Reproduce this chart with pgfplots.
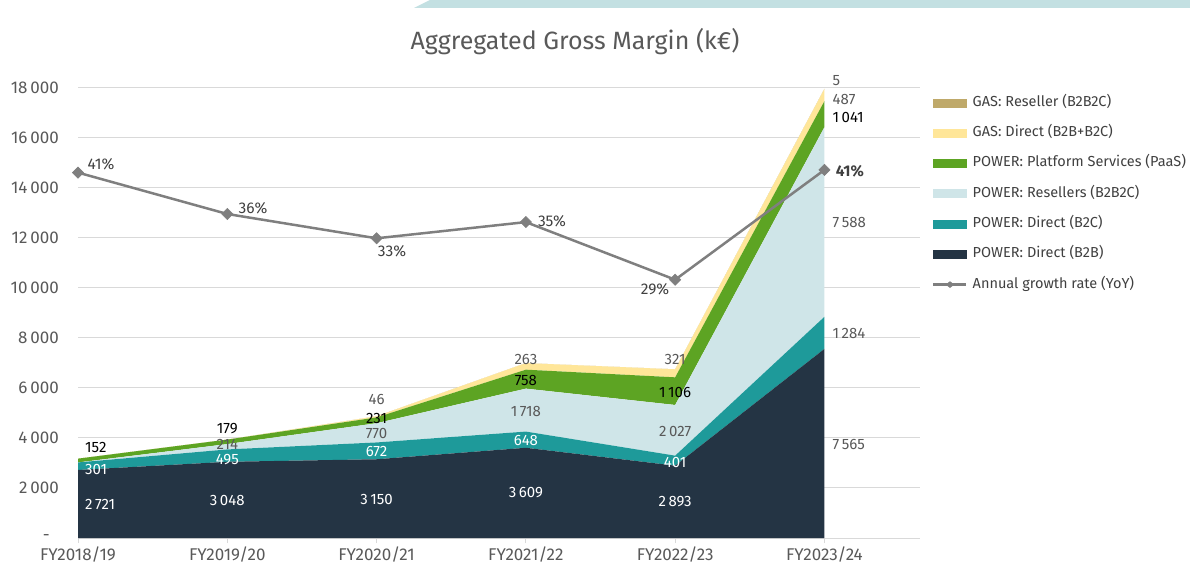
\documentclass[border=0pt]{standalone}
\usepackage{pgfplots}
\pgfplotsset{compat=1.18}
\usepackage{pgfplotstable}
\usepackage{fontspec}
\setmainfont{Fira Sans}
\definecolor{b2b}{HTML}{243444}
\definecolor{b2c}{HTML}{1E9A9A}
\definecolor{res}{HTML}{CFE5E8}
\definecolor{paas}{HTML}{5DA423}
\definecolor{gasd}{HTML}{FFE699}
\definecolor{gasr}{HTML}{BFA96A}
\definecolor{gridc}{HTML}{D9D9D9}
\definecolor{lineg}{HTML}{7F7F7F}
\definecolor{txt}{HTML}{595959}
\definecolor{dtxt}{HTML}{404040}
\definecolor{band}{HTML}{C3E0E2}
\tikzset{
  lab/.style={font=\fontsize{15bp}{17bp}\selectfont, inner sep=0pt},
  glab/.style={font=\fontsize{15.5bp}{17bp}\selectfont, inner sep=0pt, text=dtxt},
}
\pgfplotsset{
  samegeom/.style={at={(78bp,28bp)}, anchor=south west, scale only axis,
    width=842bp, height=450bp, xmin=0, xmax=5.64},
}

\pgfplotstableread{
x b2b b2c res paas gasd gasr
0 2721 301 0 152 0 0
1 3048 495 214 179 0 0
2 3150 672 770 231 46 0
3 3609 648 1718 758 263 0
4 2893 401 2027 1106 321 0
5 7565 1284 7588 1041 487 5
}\datatable

\pgfplotstableread{
x g
0 40.6
1 36.0
2 33.3
3 35.1
4 28.7
5 40.9
}\growthtable

\begin{document}
\begin{tikzpicture}
\path[use as bounding box] (0,0) rectangle (1190bp,566bp);
\fill[band] (430bp,566bp) -- (1190bp,566bp) -- (1190bp,558bp) -- (414bp,558bp) -- cycle;
\node[font=\fontsize{25bp}{29bp}\selectfont, text=txt] at (575bp,524bp) {Aggregated Gross Margin (k€)};

\begin{axis}[
  samegeom, ymin=0, ymax=18000,
  stack plots=y, clip=false,
  scaled y ticks=false,
  axis line style={draw=none},
  xtick={0,...,5},
  xticklabels={FY2018/19,FY2019/20,FY2020/21,FY2021/22,FY2022/23,FY2023/24},
  xtick pos=bottom, tick align=outside, major tick length=5bp,
  xtick style={draw=gridc, line width=1bp},
  ytick={0,2000,...,18000},
  yticklabels={{},2\,000,4\,000,6\,000,8\,000,10\,000,12\,000,14\,000,16\,000,18\,000},
  ytick style={draw=none},
  ymajorgrids, grid style={draw=gridc, line width=1bp},
  /pgf/number format/assume math mode=true,
  tick label style={font=\fontsize{17bp}{20bp}\selectfont, text=txt},
  yticklabel style={anchor=east, inner sep=0pt, xshift=-14bp},
  xticklabel style={anchor=base, inner sep=0pt, yshift=-17.5bp},
  legend cell align=left,
  legend style={at={(1.0143,0.982)}, anchor=north west, draw=none, fill=none,
    inner sep=0pt, font=\fontsize{14.5bp}{16bp}\selectfont, text=dtxt,
    row sep=17.3bp,
    nodes={inner sep=0pt, anchor=west, text height=10bp, text depth=3bp},
    /tikz/every odd column/.append style={column sep=5bp}},
]
\addlegendimage{legend image code/.code={\fill[gasr] (0bp,-4bp) rectangle (33bp,4bp);}}
\addlegendentry{GAS: Reseller (B2B2C)}
\addlegendimage{legend image code/.code={\fill[gasd] (0bp,-4bp) rectangle (33bp,4bp);}}
\addlegendentry{GAS: Direct (B2B+B2C)}
\addlegendimage{legend image code/.code={\fill[paas] (0bp,-4bp) rectangle (33bp,4bp);}}
\addlegendentry{POWER: Platform Services (PaaS)}
\addlegendimage{legend image code/.code={\fill[res] (0bp,-4bp) rectangle (33bp,4bp);}}
\addlegendentry{POWER: Resellers (B2B2C)}
\addlegendimage{legend image code/.code={\fill[b2c] (0bp,-4bp) rectangle (33bp,4bp);}}
\addlegendentry{POWER: Direct (B2C)}
\addlegendimage{legend image code/.code={\fill[b2b] (0bp,-4bp) rectangle (33bp,4bp);}}
\addlegendentry{POWER: Direct (B2B)}
\addlegendimage{legend image code/.code={\draw[lineg, line width=2.5bp] (0bp,0bp) -- (33bp,0bp);
  \fill[lineg] (12.5bp,0bp) -- (16.5bp,3bp) -- (20.5bp,0bp) -- (16.5bp,-3bp) -- cycle;}}
\addlegendentry{Annual growth rate (YoY)}

\addplot[fill=b2b, draw=none, forget plot] table[x=x,y=b2b]{\datatable} \closedcycle;
\addplot[fill=b2c, draw=none, forget plot] table[x=x,y=b2c]{\datatable} \closedcycle;
\addplot[fill=res, draw=none, forget plot] table[x=x,y=res]{\datatable} \closedcycle;
\addplot[fill=paas, draw=none, forget plot] table[x=x,y=paas]{\datatable} \closedcycle;
\addplot[fill=gasd, draw=none, forget plot] table[x=x,y=gasd]{\datatable} \closedcycle;
\addplot[fill=gasr, draw=none, forget plot] table[x=x,y=gasr]{\datatable} \closedcycle;
\end{axis}

% data labels, drawn above the areas
\begin{axis}[samegeom, ymin=0, ymax=18000, hide axis, clip=false]
% zero tick label
\node[font=\fontsize{17bp}{20bp}\selectfont, text=txt, anchor=east, inner sep=0pt] at (axis cs:0,0) [xshift=-28bp] {-};
% FY2018/19
\node[lab, text=white, anchor=west] at (axis cs:0.047,1360) {2\,721};
\node[lab, text=white, anchor=west] at (axis cs:0.047,2760) {301};
\node[lab, text=black, anchor=west] at (axis cs:0.047,3640) {152};
% FY2019/20
\node[lab, text=white] at (axis cs:1,1520) {3\,048};
\node[lab, text=white] at (axis cs:1,3120) {495};
\node[lab, text=txt] at (axis cs:1,3760) {214};
\node[lab, text=black] at (axis cs:1,4360) {179};
% FY2020/21
\node[lab, text=white] at (axis cs:2,1560) {3\,150};
\node[lab, text=white] at (axis cs:2,3480) {672};
\node[lab, text=txt] at (axis cs:2,4200) {770};
\node[lab, text=black] at (axis cs:2,4800) {231};
\node[lab, text=txt] at (axis cs:2,5560) {46};
% FY2021/22
\node[lab, text=white] at (axis cs:3,1800) {3\,609};
\node[lab, text=white] at (axis cs:3,3920) {648};
\node[lab, text=txt] at (axis cs:3,5080) {1\,718};
\node[lab, text=black] at (axis cs:3,6320) {758};
\node[lab, text=txt] at (axis cs:3,7160) {263};
% FY2022/23
\node[lab, text=white] at (axis cs:4,1440) {2\,893};
\node[lab, text=white] at (axis cs:4,3040) {401};
\node[lab, text=txt] at (axis cs:4,4280) {2\,027};
\node[lab, text=black] at (axis cs:4,5840) {1\,106};
\node[lab, text=txt] at (axis cs:4,7160) {321};
% FY2023/24
\node[lab, text=txt, anchor=west] at (axis cs:5.054,3760) {7\,565};
\node[lab, text=txt, anchor=west] at (axis cs:5.054,8200) {1\,284};
\node[lab, text=txt, anchor=west] at (axis cs:5.054,12600) {7\,588};
\node[lab, text=black, anchor=west] at (axis cs:5.054,16800) {1\,041};
\node[lab, text=txt, anchor=west] at (axis cs:5.054,17520) {487};
\node[lab, text=txt, anchor=west] at (axis cs:5.054,18280) {5};
\end{axis}

% growth rate line
\begin{axis}[samegeom, ymin=0, ymax=50, hide axis, clip=false]
\addplot[lineg, line width=2.5bp, mark=square*, mark size=4bp, mark options={rotate=45, fill=lineg, draw=lineg, line width=0.5bp}] table[x=x,y=g]{\growthtable};
\node[glab] at (axis cs:0.154,41.56) {41\%};
\node[glab] at (axis cs:1.172,36.67) {36\%};
\node[glab] at (axis cs:2.103,31.9) {33\%};
\node[glab] at (axis cs:3.175,35.2) {35\%};
\node[glab] at (axis cs:3.865,27.67) {29\%};
\node[glab, font=\fontsize{15.5bp}{17bp}\selectfont\bfseries] at (axis cs:5.17,40.8) {41\%};
\end{axis}
\end{tikzpicture}
\end{document}
